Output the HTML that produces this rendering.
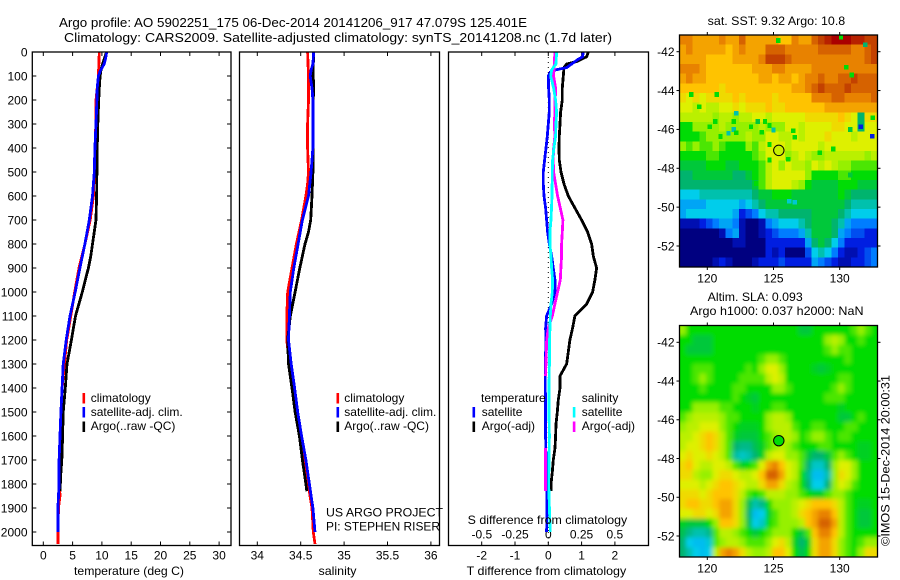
<!DOCTYPE html>
<html>
<head>
<meta charset="utf-8">
<title>Argo profile</title>
<style>
html,body{margin:0;padding:0;background:#fff;}
#chart{display:block;width:900px;height:580px;}
text{font-family:"Liberation Sans",sans-serif;font-size:12px;fill:#000;}
</style>
</head>
<body>
<svg id="chart" xmlns="http://www.w3.org/2000/svg" width="900" height="580" viewBox="0 0 900 580">
<defs>
<clipPath id="clip-sst"><rect x="679.5" y="35" width="198" height="232"/></clipPath>
<clipPath id="clip-sla"><rect x="679.5" y="325.5" width="198" height="231.5"/></clipPath>
<filter id="soft" x="-5%" y="-5%" width="110%" height="110%"><feGaussianBlur stdDeviation="2.2"/></filter>
</defs>
<g id="layer"></g>
<text x="59" y="27" textLength="468" lengthAdjust="spacingAndGlyphs" style="font-size:13px">Argo profile: AO 5902251_175 06-Dec-2014 20141206_917 47.079S 125.401E</text>
<text x="64" y="42" textLength="548" lengthAdjust="spacingAndGlyphs" style="font-size:13px">Climatology: CARS2009. Satellite-adjusted climatology: synTS_20141208.nc (1.7d later)</text>
<text x="74" y="575" textLength="110" lengthAdjust="spacingAndGlyphs">temperature (deg C)</text>
<text x="318.5" y="575" textLength="38" lengthAdjust="spacingAndGlyphs">salinity</text>
<text x="466.7" y="575" textLength="159.5" lengthAdjust="spacingAndGlyphs">T difference from climatology</text>
<text x="467.7" y="524" textLength="159.5" lengthAdjust="spacingAndGlyphs">S difference from climatology</text>
<text x="326" y="516.7" textLength="117" lengthAdjust="spacingAndGlyphs">US ARGO PROJECT</text>
<text x="326" y="530.7" textLength="114" lengthAdjust="spacingAndGlyphs">PI: STEPHEN RISER</text>
<text x="707.7" y="25" textLength="137.5" lengthAdjust="spacingAndGlyphs">sat. SST: 9.32  Argo: 10.8</text>
<text x="707.7" y="301" textLength="95" lengthAdjust="spacingAndGlyphs">Altim. SLA: 0.093</text>
<text x="690" y="315" textLength="173.5" lengthAdjust="spacingAndGlyphs">Argo h1000: 0.037 h2000: NaN</text>
<text transform="translate(889.5,546) rotate(-90)" textLength="171" lengthAdjust="spacingAndGlyphs">©IMOS 15-Dec-2014 20:00:31</text>
</svg>
<script>
// ---- profile data ----
var depthTicks = [0,100,200,300,400,500,600,700,800,900,1000,1100,1200,1300,1400,1500,1600,1700,1800,1900,2000];
var tempTicks = [0,5,10,15,20,25,30];
var salTicks = [34,34.5,35,35.5,36];
var salTickLabels = ['34','34.5','35','35.5','36'];
var tDiffTicks = [-2,-1,0,1,2];
var sDiffTicks = [-0.5,-0.25,0,0.25,0.5];
var sDiffTickLabels = ['-0.5','-0.25','0','0.25','0.5'];
var latTicks = [-42,-44,-46,-48,-50,-52];
var lonTicks = [120,125,130];

var tempClimDepth = [0,100,200,300,400,500,600,700,800,900,1000,1100,1200,1300,1400,1500,1600,1700,1800,1850,1900,2000,2050];
var tempClim = [9.56,9.4,9.0,8.95,8.9,8.7,8.55,8.0,7.1,6.1,5.35,4.7,4.0,3.6,3.2,3.0,2.85,2.75,2.75,2.85,2.6,2.5,2.5];
var tempSatDepth = [0,25,50,75,100,150,200,300,400,500,600,700,800,900,1000,1100,1200,1300,1400,1500,1600,1700,1800,1900,2000];
var tempSat = [10.8,10.65,10.4,9.8,9.4,9.2,9.15,9.0,8.8,8.7,8.4,7.85,7.1,6.25,5.45,4.55,3.9,3.4,3.2,3.0,2.85,2.7,2.7,2.5,2.5];
var tempArgoDepth = [0,50,75,100,150,200,300,400,500,600,700,800,850,900,1000,1100,1200,1300,1400,1500,1600,1700,1750,1830];
var tempArgo = [10.8,10.1,9.85,9.7,9.55,9.45,9.3,9.2,9.15,9.1,9.0,8.4,8.1,7.7,6.65,5.5,4.8,4.05,3.75,3.4,3.3,3.15,3.0,2.85];

var salClimDepth = [0,100,200,300,400,500,550,600,700,800,900,1000,1100,1200,1300,1400,1500,1600,1700,1800,1900,2000,2050];
var salClim = [34.58,34.59,34.59,34.58,34.58,34.59,34.58,34.56,34.51,34.45,34.40,34.35,34.34,34.34,34.37,34.40,34.45,34.51,34.55,34.585,34.63,34.645,34.665];
var salSatDepth = [0,50,75,100,150,200,300,400,500,600,700,800,900,1000,1100,1200,1300,1400,1500,1600,1700,1800,1900,2000];
var salSat = [34.65,34.64,34.62,34.61,34.63,34.64,34.64,34.64,34.62,34.59,34.52,34.47,34.42,34.38,34.37,34.36,34.39,34.43,34.465,34.51,34.56,34.6,34.64,34.665];
var salArgoDepth = [0,100,125,175,200,500,600,700,750,800,900,1000,1100,1200,1300,1400,1500,1600,1700,1800,1830];
var salArgo = [34.65,34.64,34.65,34.65,34.64,34.64,34.63,34.615,34.59,34.55,34.49,34.435,34.38,34.35,34.36,34.40,34.435,34.485,34.52,34.56,34.57];

var tDiffArgoDepth = [0,20,40,50,65,100,150,200,250,300,350,400,450,500,550,600,650,700,750,800,850,900,950,1000,1050,1100,1150,1200,1250,1300,1350,1400,1450,1500,1550,1600,1650,1700,1750,1800,1830];
var tDiffArgo = [1.2,1.15,0.85,0.55,0.47,0.45,0.42,0.42,0.37,0.35,0.33,0.32,0.33,0.38,0.47,0.6,0.8,1.0,1.18,1.3,1.35,1.45,1.4,1.33,1.15,0.8,0.73,0.65,0.6,0.55,0.35,0.35,0.3,0.27,0.23,0.22,0.2,0.15,0.12,0.08,0.08];
var tDiffSatDepth = [0,20,30,50,65,75,85,100,150,200,250,300,350,400,450,500,550,600,650,700,750,800,850,900,950,1000,1050,1100,1150,1200,1300,1400,1500,1600,1700,1800,1900,2000];
var tDiffSat = [1.05,1.03,0.9,0.7,0.55,0.2,0.05,0,0.01,0.03,0.03,0,-0.03,-0.07,-0.11,-0.15,-0.15,-0.13,-0.08,-0.05,-0.02,0.03,0.1,0.15,0.2,0.2,0.1,-0.05,-0.08,-0.07,-0.09,-0.09,-0.08,-0.08,-0.07,-0.05,-0.04,-0.05];
var sDiffArgoDepth = [0,100,150,175,200,250,300,350,400,450,500,550,600,650,700,750,800,850,900,950,1000,1050,1100,1150,1200,1300,1350,1400,1600,1650,1700,1830];
var sDiffArgo = [0.05,0.04,0.055,0.055,0.05,0.05,0.045,0.05,0.04,0.037,0.04,0.055,0.07,0.09,0.11,0.105,0.1,0.1,0.095,0.09,0.07,0.05,0.03,0.0,-0.012,-0.018,-0.02,null,null,-0.022,-0.022,-0.022];
var sDiffSatDepth = [0,50,75,100,150,200,250,300,350,400,450,500,600,700,750,800,850,900,950,1000,1050,1100,1200,1300,1400,1500,1600,1700,1800,1900,2000];
var sDiffSat = [0.0625,0.058,0.025,0.018,0.04,0.055,0.0625,0.058,0.055,0.042,0.032,0.03,0.028,0.02,0.012,0.012,0.02,0.025,0.032,0.03,0.02,0.015,0.01,0.008,0.005,0.005,0.008,0.005,0.003,0.008,0.015];

// ---- map data: colour level per cell, rows north to south, columns west to east ----
var sstGrid = [
[9,9,8.5,8.5,8.5,8.5,9,8.5,8.5,9.5,8.5,8.5,8.5,8.5,8.5,8,8,9,8.5,8.5,9.5,10,10.5,11,11,11,10.5,10.5,10,10],
[8.5,9,8.5,8.5,8.5,8.5,8.5,8,8.5,9,8.5,8.5,8.5,9.5,9.5,9.5,9,9,9,9,9,9.5,9.5,9.5,9.5,9.5,9,9,9.5,10],
[8.5,8.5,8.5,8.5,8,8,8,8,8.5,8.5,8.5,8.5,9,10,10,10,9.5,9,9,9,9,9,9,9,9,9,9,9,9.5,10],
[9,9,9,8.5,8,8,8,8,8,8,8,8.5,8.5,8.5,9,9,8.5,8.5,8.5,8.5,9,9,9,9,9,9,9,9,9,9],
[8.5,9,8.5,8.5,8,8,8,8,8,8,8,8,8.5,8.5,8,8.5,8.5,8,8.5,9,9,9.5,9,9,9.5,9.5,10,9.5,9.5,9.5],
[8,8,8,8,8,8,7.5,8,8,8,8,8,8,8,8,8,8,8.5,8.5,9,9.5,10,9.5,9.5,9.5,10,9.5,9.5,9.5,9.5],
[7.5,7,7.5,7,7.5,7.5,7.5,7.5,8,7.5,8,8,8,8,7.5,8,8,8,8,8,9,9,9,9.5,9.5,9,9,9,9,9.5],
[7,7,6.5,7,6.5,6.5,7,7,7.5,7,7.5,7.5,7.5,8,7.5,7.5,8,8,8,8,8,8,8.5,8.5,8.5,8.5,8.5,8.5,8.5,8.5],
[6.5,6.5,6.5,6.5,6.5,6,6.5,6.5,6,6.5,6.5,7,7,6.5,7,7,7,7,7,7.5,7.5,7.5,7.5,7.5,8,7.5,7,4,7.5,7.5],
[5,5,6,6,6,6,6.5,6,6,6,6,6,6.5,6,6,6,7,7,6.5,7,7,7,7,7.5,7.5,7,7,4,7,7],
[5,5,5,5.5,6,6,6,6,6,6,6.5,6,6,7,7,6.5,6.5,7,6.5,7,7,7,7.5,7,7,7,6.5,7,7,7],
[6,5.5,6,5.5,5.5,6,5.5,5,5,5,6,5.5,6.5,7,7,7,6.5,7,7,7,7,6.5,7,7,7,7,7,7,7,7],
[5,5,5,5,5.5,5.5,5,5,5,5,5,5.5,6,7,7,7,6,6.5,7,6.5,6,6,6.5,6.5,6.5,6.5,6.5,6.5,6,6.5],
[4.5,4.5,4.5,4.5,5,5,5,4.5,4.5,5,5,5,5.5,6.5,7,6,7,6.5,6.5,6,7,6.5,7,6.5,6,6,5.5,5.5,5.5,5.5],
[4,4,4.5,4.5,4.5,4.5,4.5,4.5,4,4,4.5,5,5.5,6.5,7,7,7,7,7,6,5,5,5,5,5.5,5.5,5,5,5,5],
[4,4,4,4,4,4,4,4,4,4,4,4.5,5.5,6.5,7,7,7,6.5,6,5,4.5,4.5,4.5,4.5,5,5,5,4.5,4.5,4.5],
[3,3,3,3.5,3.5,3.5,3.5,3.5,3.5,3.5,3.5,4,4.5,4.5,5,5,5,4.5,4.5,4.5,4.5,4.5,4.5,4.5,5,4.5,4,4,4,4],
[2.5,2.5,2.5,2.5,3,3,3,3,3,2.5,3,3.5,4,4.5,4.5,4.5,4.5,4.5,4.5,4.5,4.5,4.5,4.5,4.5,4.5,4,3.5,3.5,3.5,3.5],
[2.5,3,3,3,3,3,3,3,2.5,1,1.5,2,3,3.5,3.5,4,4,4,4,4,4.5,4.5,4.5,4.5,4,3.5,3,3,3,3],
[0.5,0.5,0.5,1,1.5,2,2.5,2.5,2,0.5,0,0,0.5,2,2.5,3,3,3,3.5,4,4.5,4.5,4.5,4,3.5,2.5,2,2,2,2],
[0,0,0,0,0,0,0.5,2,2.5,0.5,0,0,0.5,1,1.5,2,2,2,2.5,3.5,4.5,4.5,4.5,4,2.5,2,1.5,1.5,1,1],
[0,0,0,0,0,0,0,0,0.5,0.5,0,0,0,1,1,1,1,1,1,2.5,4,4.5,4,3,2,1,1,1,1,1],
[0,0,0,0,0,0,0,0,0,0,0,0,0,1,0.5,1,0,0,0,1.5,3,3.5,3,2,1,0.5,0.5,1,1.5,2],
[0,0,0,0,0,0.5,1,0.5,0,0,0,0.5,1,1,1,1.5,1,1,1,1,2.5,2,1.5,1,0.5,0.5,1,1,1.5,2]
];
var sstSpeckLon = [125.36,130.1,131.94,130.5,130.9,118.8,120.7,119.4,122.2,120.6,122,123.8,124.36,120.2,122,123.3,124.7,125,126.5,126.6,130.8,131.6,132.5,132.45,121.6,121,122.2,124.1,124.7,129.5,128.5,124.7,126.1,123.7,130.8,126.2,126.6];
var sstSpeckLat = [-41.43,-41.26,-41.64,-42.8,-43.2,-44.2,-44.2,-44.83,-45.17,-45.6,-45.6,-45.6,-45.6,-45.86,-46,-45.86,-45.8,-46.03,-46.07,-46.4,-46,-45.86,-45.4,-46.35,-46.2,-46.37,-46.17,-46.15,-46.77,-47,-47.2,-47.57,-47.54,-48.78,-48.35,-49.7,-49.75];
var sstSpeckLevel = [5,5,4,5,5,5,5,5,3.5,5,5,4.5,5,5,3.5,5,5,3.5,5,5,4.5,1,5,1,3.5,5,5,5,5,5,5,5,5,5,4.5,3.2,3.2];
var slaGrid = [
[6,5,5,5,5,5,5,5,5,5,5,5,5,5,5,5,5,5,4.5,4.5,5,5,5,5,5,5,5.5,6,5.5,5],
[5,5,4.5,4.5,4.5,5,5,5,5,5,5,5,5,5,5,5,5,5,5,5,5,5,6,6.5,6,5,5,5.5,5,5],
[5,4.5,4.5,4.5,4.5,5,5,5,5,5,5,5,5,5,5,5,5,5,5,5,5,5,5.5,6,5.5,5.5,5,5,5,5],
[5,5,5,5,5,5,5,5,5,5,5,5,5.5,6,6,5.5,5,5,5,5,5,5,5,5,5,5.5,5,5,5,5],
[5,5,5.5,5.5,5.5,5,5,5,5,5,5.5,5,6,7,7,6,5,5,5,5,4.7,4.5,4.7,5,5,5,5,5,5,5],
[5,5,5.5,6,5.5,5,5,5,5,5.5,5.5,5.5,5.5,6.5,7,6.5,5,5,5,5,5,5,5,5,5.5,5.5,5,5,5,5],
[5,5,5,5.5,5,5,5,5,5.5,5.5,5,5,5,5,6,6,5.5,5,5,5,5,5,5,5.5,6,5.5,5,5,5,5],
[5,5,5,5,5,5,5,5,5.5,5,4.7,4.5,5,5,5,5,5,5,5,5,5,5,5.5,5.5,5.5,5,5,5,5,5],
[5,5,6,6,6,6,5.5,5.5,5,5,5,4.7,5,5,5.5,5.5,5,5,5,5,5,5,5,5,4.7,5,5,5,5,5],
[5.5,6,6.5,6.5,6.5,6.5,6,5.5,5.5,5,5,5,5,6,6.5,6.5,6,5,5,5,5,5,5,5,4.5,4.5,5,5.5,5,5],
[6,6.5,6.5,7,7,7,6,5.5,5,4.7,4.7,4.7,5,6,6.5,6.5,6.5,5.5,5,5,5.5,5.5,5,5,5,5.5,5.5,5,5,5],
[6.5,6.5,7,7.5,8,7.5,6.5,5.5,4.7,4.5,4.5,4.5,5,5.5,6,6.5,6.5,6,5,5.5,6,6,5.5,5,5.5,5.5,5,5,5,5],
[6.5,7,7,7.5,8,7.5,6.5,5.5,4,3.8,3.8,4.3,4.7,5.5,6,6.5,6,5.5,5,5,5,5.5,5.5,5,5,5,5,4.7,4.7,5],
[7,7.5,7,7,7.5,7,6.5,5.5,3.6,3.3,3.5,4,4.7,6.5,7,7,6,6,5.5,4.5,4,4,4.5,5.5,6,5.5,5,4.7,4.7,5],
[7.5,8,7,6.5,6.5,7,7,6.5,5.5,4.7,5,5.5,7,8.5,9,8,7,6.5,5.5,4,3.3,3.3,4,6,7,7,6,5,5,5],
[7.5,7.5,6.5,6,6,7,7.5,7.5,7,6.5,6.5,7,8,9.5,9.5,8.5,7,6.5,5,3.8,2.8,2.8,3.5,6,7.5,7,6,5,5,5],
[7,7,7,6.5,7,7.5,8,8,7.5,7,6.5,6.5,7.5,8.5,8.5,7.5,6.5,6,5,4,3,3,4,6,7,6.5,5.5,5,5,5],
[7.5,7.5,7.5,7,7.5,8,8,8,7.5,6.5,5.5,5,5.5,6.5,6.5,6.5,6,6,5.5,5,4.7,4.7,5.5,6,6,5.5,5,5,5,5],
[7.5,8,8,7.5,7.5,8,8.5,8.5,7.5,6,4.3,3.5,3.8,5,6,6,6,6.5,7,7.5,8,8,8,7.5,6.5,5.5,5,4.7,4.7,5],
[7,7,7.5,7.5,7,7.5,8.5,8.5,7.5,6,4,2.8,3,4.7,5.5,6,6,6.5,7.5,8,8.5,9,9,8,6.5,5.5,5,4.5,4.5,5],
[4.7,4.5,4.5,4.5,5,6,8,8,7.5,6,4.3,3,3.3,5,5.5,6,6,6,6.5,8,8.5,9.5,9.5,8.5,6.5,5.5,5,4.5,4.5,5],
[4.3,3.8,3.5,3.5,3.8,5.5,6.5,6.5,6,5.5,5,4.5,5,5.5,6,6,6,5,4.5,5.5,8,9,9,8,6.5,5.5,5,5,5,5],
[4,3,2.8,2.8,3.2,5.5,6,6.5,6.5,6,5.5,5.5,5.5,6,7,7.5,6.5,4.7,4,4.7,7.5,8.5,8.5,7.5,6,5.5,5,5.5,6,6],
[4,3.5,3,2.8,3,6.5,8.5,9,8.5,7.5,6.5,6,6,6.5,8,8,7,5,4.3,5,7.5,8.5,8.5,7.5,6,5.5,5,6,7.5,7.5]
];
var argoLon = [125.401];
var argoLat = [-47.079];
var sstMarkerLevel = [6.7];
var slaMarkerLevel = [5];

// ---- drawing ----
var NS = 'http://www.w3.org/2000/svg';
var layer = document.getElementById('layer');
function mk(tag, attrs, parent) {
  var el = document.createElementNS(NS, tag);
  for (var k in attrs) el.setAttribute(k, attrs[k]);
  (parent || layer).appendChild(el);
  return el;
}
function depthY(d) { return 52 + d * 0.24; }
function tempX(v) { return 43.3 + v * 5.86; }
function salX(v) { return 257.3 + (v - 34) * 86.8; }
function tDiffX(v) { return 548.3 + v * 33.3; }
function sDiffX(v) { return 548.3 + v * 133; }
function lonX(v) { return 707.3 + (v - 120) * 13.24; }
function sstLatY(v) { return 51.7 + (-42 - v) * 19.43; }
function slaLatY(v) { return 342.3 + (-42 - v) * 19.37; }

var stops = [[0,0,128],[0,30,225],[0,125,255],[0,205,235],[0,180,110],[0,220,5],[150,240,0],[222,240,0],[255,195,0],[232,130,0],[195,65,0],[170,0,0]];
function levelColor(v) {
  var i = Math.max(0, Math.min(stops.length - 2, Math.floor(v)));
  var f = Math.max(0, Math.min(1, v - i));
  var a = stops[i], b = stops[i + 1];
  return 'rgb(' + Math.round(a[0] + (b[0] - a[0]) * f) + ',' + Math.round(a[1] + (b[1] - a[1]) * f) + ',' + Math.round(a[2] + (b[2] - a[2]) * f) + ')';
}

function drawLine(depths, vals, xf, color, name) {
  var d = '', pen = false;
  for (var i = 0; i < vals.length; i++) {
    if (vals[i] === null) { pen = false; continue; }
    d += (pen ? 'L' : 'M') + xf(vals[i]).toFixed(1) + ' ' + depthY(depths[i]).toFixed(1);
    pen = true;
  }
  var el = mk('path', {d: d, fill: 'none', stroke: color, 'stroke-width': 2.8, 'shape-rendering': 'crispEdges', 'stroke-linejoin': 'round'});
  
  
}
function drawFrame(x, y, w, h, name) {
  var el = mk('rect', {x: x, y: y, width: w, height: h, fill: 'none', stroke: '#000', 'stroke-width': 1.3});
  
  
}
function tick(x1, y1, x2, y2) {
  var el = mk('line', {x1: x1, y1: y1, x2: x2, y2: y2, stroke: '#000', 'stroke-width': 1});
  
  
}
function label(x, y, txt, anchor, name) {
  var el = mk('text', {x: x, y: y, 'text-anchor': anchor || 'middle'});
  el.textContent = txt;
  
  
}
function swatch(x, y, color, name) {
  var el = mk('rect', {x: x, y: y, width: 2.6, height: 10.5, fill: color});
  
  
}

// panel 1: temperature
var P1 = [32.3, 231], P2 = [239.5, 439.5], P3 = [448.5, 648.5], TOP = 52, BOT = 545.5;
tempTicks.forEach(function (t) {
  tick(tempX(t), TOP, tempX(t), TOP + 4);
  tick(tempX(t), BOT, tempX(t), BOT - 4);
  label(tempX(t), 559.5, String(t), 'middle', 'temperature-tick-label');
});
depthTicks.forEach(function (d) {
  tick(P1[0], depthY(d), P1[0] + 4, depthY(d));
  tick(P1[1], depthY(d), P1[1] - 4, depthY(d));
  label(27.5, depthY(d) + 4.3, String(d), 'end', 'depth-tick-label');
});
drawLine(tempClimDepth, tempClim, tempX, '#ff0000', 'temperature-climatology-line');
drawLine(tempArgoDepth, tempArgo, tempX, '#000000', 'temperature-argo-line');
drawLine(tempSatDepth, tempSat, tempX, '#0000ff', 'temperature-satellite-line');
drawFrame(P1[0], TOP, P1[1] - P1[0], BOT - TOP, 'temperature-panel-frame');

// panel 2: salinity
salTicks.forEach(function (s, i) {
  tick(salX(s), TOP, salX(s), TOP + 4);
  tick(salX(s), BOT, salX(s), BOT - 4);
  label(salX(s), 559.5, salTickLabels[i], 'middle', 'salinity-tick-label');
});
drawLine(salClimDepth, salClim, salX, '#ff0000', 'salinity-climatology-line');
drawLine(salArgoDepth, salArgo, salX, '#000000', 'salinity-argo-line');
drawLine(salSatDepth, salSat, salX, '#0000ff', 'salinity-satellite-line');
drawFrame(P2[0], TOP, P2[1] - P2[0], BOT - TOP, 'salinity-panel-frame');

// panel 3: differences
var zero = mk('line', {x1: tDiffX(0), y1: TOP, x2: tDiffX(0), y2: BOT, stroke: '#000', 'stroke-width': 1, 'stroke-dasharray': '1 4'});


tDiffTicks.forEach(function (t) {
  tick(tDiffX(t), TOP, tDiffX(t), TOP + 4);
  tick(tDiffX(t), BOT, tDiffX(t), BOT - 4);
  label(tDiffX(t), 559.5, String(t), 'middle', 't-difference-tick-label');
});
sDiffTicks.forEach(function (s, i) {
  label(sDiffX(s), 538.7, sDiffTickLabels[i], 'middle', 's-difference-tick-label');
});
drawLine(tDiffArgoDepth, tDiffArgo, tDiffX, '#000000', 't-difference-argo-line');
drawLine(tDiffSatDepth, tDiffSat, tDiffX, '#0000ff', 't-difference-satellite-line');
drawLine(sDiffArgoDepth, sDiffArgo, sDiffX, '#ff00ff', 's-difference-argo-line');
drawLine(sDiffSatDepth, sDiffSat, sDiffX, '#00ffff', 's-difference-satellite-line');
drawFrame(P3[0], TOP, P3[1] - P3[0], BOT - TOP, 'difference-panel-frame');

// legends
swatch(82.5, 393, '#ff0000', 'legend-swatch-climatology');
label(90.7, 402, 'climatology', 'start', 'legend-label-climatology');
swatch(82.5, 407, '#0000ff', 'legend-swatch-satellite');
label(90.7, 416, 'satellite-adj. clim.', 'start', 'legend-label-satellite');
swatch(82.5, 421.5, '#000000', 'legend-swatch-argo');
label(90.7, 430, 'Argo(..raw -QC)', 'start', 'legend-label-argo');
swatch(336.5, 393, '#ff0000', 'salinity-legend-swatch-climatology');
label(344.3, 402, 'climatology', 'start', 'salinity-legend-label-climatology');
swatch(336.5, 407, '#0000ff', 'salinity-legend-swatch-satellite');
label(344.3, 416, 'satellite-adj. clim.', 'start', 'salinity-legend-label-satellite');
swatch(336.5, 421.5, '#000000', 'salinity-legend-swatch-argo');
label(344.3, 430, 'Argo(..raw -QC)', 'start', 'salinity-legend-label-argo');
label(481, 402, 'temperature', 'start', 'legend-heading-temperature');
swatch(472.5, 407, '#0000ff', 'diff-legend-swatch-t-satellite');
label(481.7, 416, 'satellite', 'start', 'diff-legend-label-t-satellite');
swatch(472.5, 421.5, '#000000', 'diff-legend-swatch-t-argo');
label(481.7, 430, 'Argo(-adj)', 'start', 'diff-legend-label-t-argo');
label(581.7, 402, 'salinity', 'start', 'legend-heading-salinity');
swatch(572.8, 407, '#00ffff', 'diff-legend-swatch-s-satellite');
label(581.7, 416, 'satellite', 'start', 'diff-legend-label-s-satellite');
swatch(572.8, 421.5, '#ff00ff', 'diff-legend-swatch-s-argo');
label(581.7, 430, 'Argo(-adj)', 'start', 'diff-legend-label-s-argo');

// maps
function drawMap(grid, top, height, clipId, blur, cellName, latY, frameName, tickName, markerLevel, speckLon, speckLat, speckLevel) {
  var left = 679.5, width = 198;
  var outer = mk('g', {'clip-path': 'url(#' + clipId + ')'});
  
  
  var g = mk('g', blur ? {filter: 'url(#soft)'} : {}, outer);
  var rows = grid.length, cols = grid[0].length;
  var cw = width / cols, ch = height / rows;
  grid.forEach(function (row, r) {
    row.forEach(function (v, c) {
      var pad = blur ? 12 : 0;
      var x = left + c * cw - (c === 0 ? pad : 0);
      var y = top + r * ch - (r === 0 ? pad : 0);
      var w = cw + 0.4 + ((c === 0 || c === cols - 1) ? pad : 0);
      var h = ch + 0.4 + ((r === 0 || r === rows - 1) ? pad : 0);
      var cell = mk('rect', {x: x, y: y, width: w, height: h, fill: levelColor(v), 'shape-rendering': 'crispEdges'}, g);
      
      
    });
  });
  if (speckLon) {
    speckLon.forEach(function (lon, i) {
      var sp = mk('rect', {x: lonX(lon) - 2.2, y: latY(speckLat[i]) - 2.4, width: 4.4, height: 4.8, fill: levelColor(speckLevel[i]), 'shape-rendering': 'crispEdges'}, g);
      
      
    });
  }
  drawFrame(left, top, width, height, frameName);
  lonTicks.forEach(function (lon) {
    tick(lonX(lon), top, lonX(lon), top - 3);
    tick(lonX(lon), top + height, lonX(lon), top + height + 3);
    label(lonX(lon), top + height + 15.5, String(lon), 'middle', tickName + '-lon-label');
  });
  latTicks.forEach(function (lat) {
    tick(left, latY(lat), left - 3, latY(lat));
    tick(left + width, latY(lat), left + width + 3, latY(lat));
    label(left - 5, latY(lat) + 4.3, String(lat), 'end', tickName + '-lat-label');
  });
  var m = mk('circle', {cx: lonX(argoLon[0]), cy: latY(argoLat[0]), r: 5.2, fill: levelColor(markerLevel), stroke: '#000', 'stroke-width': 1});
  
  
}
drawMap(sstGrid, 35, 232, 'clip-sst', false, 'sst-cell', sstLatY, 'sst-map-frame', 'sst-map', sstMarkerLevel[0], sstSpeckLon, sstSpeckLat, sstSpeckLevel);
drawMap(slaGrid, 325.5, 231.5, 'clip-sla', true, 'sla-cell', slaLatY, 'sla-map-frame', 'sla-map', slaMarkerLevel[0]);
</script>
</body>
</html>
